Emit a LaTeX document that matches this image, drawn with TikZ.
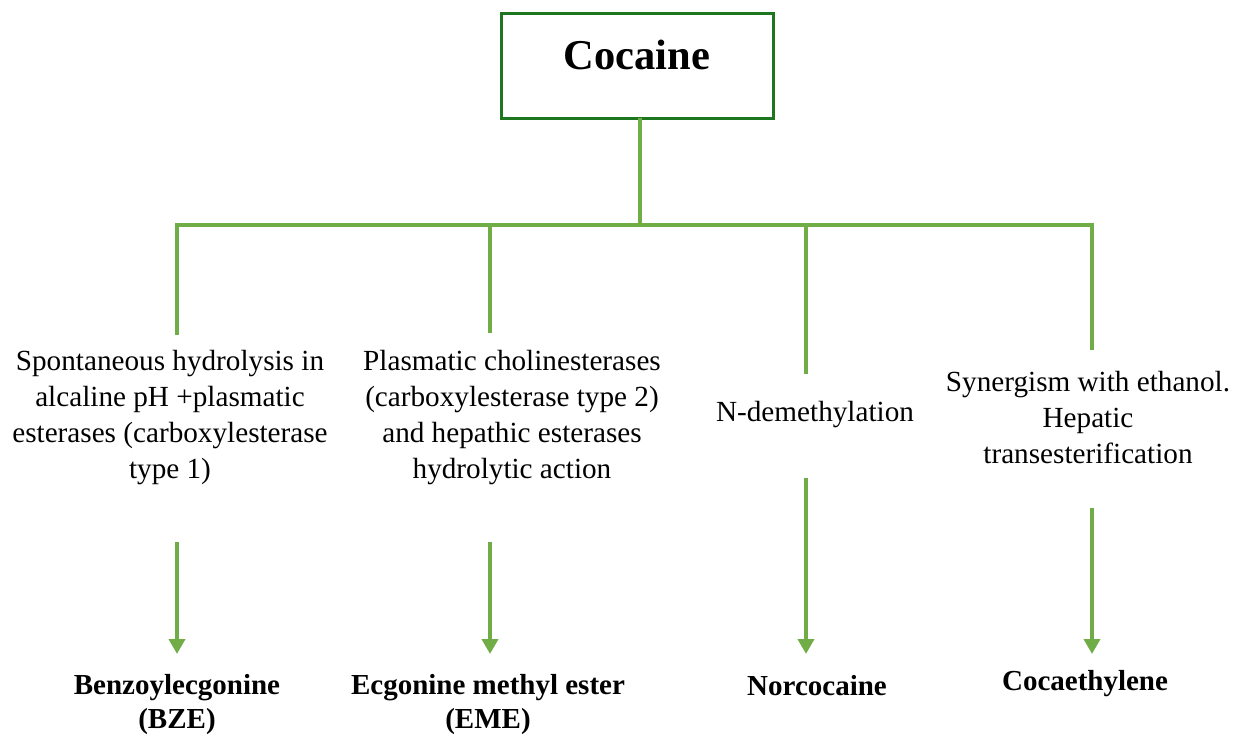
\documentclass[tikz,border=0pt]{standalone}
\usepackage{fontspec}
\setmainfont{Liberation Serif}
\usetikzlibrary{arrows.meta}
\definecolor{lgreen}{RGB}{112,173,71}
\definecolor{dgreen}{RGB}{30,118,30}
\tikzset{
  link/.style={draw=lgreen,line width=4pt},
  flow/.style={draw=lgreen,line width=4pt,-{Triangle[width=16pt,length=15pt]}},
  desc/.style={align=center,font=\fontsize{29.2}{36}\selectfont,inner sep=0pt},
  prod/.style={align=center,font=\fontsize{29}{34}\selectfont\bfseries,inner sep=0pt},
}
\begin{document}
\begin{tikzpicture}[x=1pt,y=-1pt]
\useasboundingbox (0,0) rectangle (1234,736);
\node[draw=dgreen,line width=3pt,minimum width=272pt,minimum height=105pt,inner sep=0pt] (coc) at (637,65.5) {};
\node[font=\fontsize{42.5}{46}\selectfont\bfseries] (coct) at (637,55) {Cocaine};
\coordinate (top) at (640,118);
\coordinate (j) at (640,225);
\coordinate (jl) at (177,225);
\coordinate (jr) at (1092,225);
\coordinate (b1) at (490,225);
\coordinate (b2) at (806,225);
\coordinate (e0) at (177,335);
\coordinate (e1) at (490,333);
\coordinate (e2) at (806,374);
\coordinate (e3) at (1092,350);
\draw[link] (top) -- (j);
\draw[link,line cap=rect] (jl) -- (jr);
\draw[link] (jl) -- (e0);
\draw[link] (b1) -- (e1);
\draw[link] (b2) -- (e2);
\draw[link] (jr) -- (e3);
\node[desc] (t0) at (170,418) {Spontaneous hydrolysis in\\alcaline pH +plasmatic\\esterases (carboxylesterase\\type 1)};
\node[desc] (t1) at (512,418) {Plasmatic cholinesterases\\(carboxylesterase type 2)\\and hepathic esterases\\hydrolytic action};
\node[desc] (t2) at (815,415) {N-demethylation};
\node[desc] (t3) at (1088,418) {Synergism with ethanol.\\Hepatic\\transesterification};
\coordinate (a0) at (177,542);
\coordinate (a1) at (490,542);
\coordinate (a2) at (806,478);
\coordinate (a3) at (1092,508);
\coordinate (z0) at (177,654);
\coordinate (z1) at (490,654);
\coordinate (z2) at (806,654);
\coordinate (z3) at (1092,654);
\draw[flow] (a0) -- (z0);
\draw[flow] (a1) -- (z1);
\draw[flow] (a2) -- (z2);
\draw[flow] (a3) -- (z3);
\node[prod] (p0) at (177,705) {Benzoylecgonine\\(BZE)};
\node[prod] (p1) at (488,705) {Ecgonine methyl ester\\(EME)};
\node[prod] (p2) at (817,686) {Norcocaine};
\node[prod] (p3) at (1085,684) {Cocaethylene};
\end{tikzpicture}
\end{document}
